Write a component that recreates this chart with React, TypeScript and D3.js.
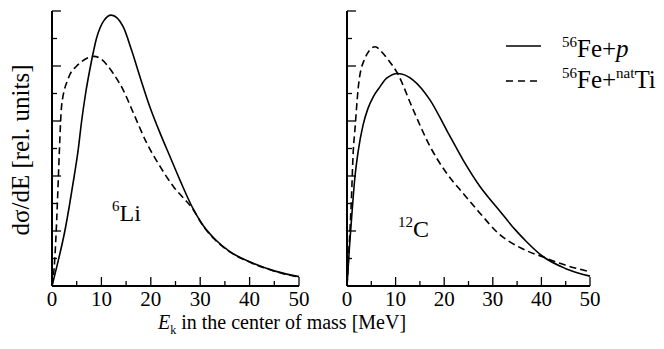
import React from "react";
import * as d3 from "d3";

// [E (MeV), dσ/dE (rel. units)]
const liProton: [number, number][] = [
  [0, 0], [1.3, 0.95], [2.6, 2.0], [3.5, 2.9], [4.5, 4.0], [5.3, 4.95], [6.0, 6.0],
  [6.8, 7.0], [7.8, 8.0], [9.0, 9.0], [10.5, 9.65], [12.0, 9.85], [14.4, 9.43],
  [16.1, 8.58], [17.8, 7.61], [19.8, 6.52], [21.9, 5.55], [23.9, 4.7], [25.9, 3.85],
  [28.3, 2.9], [30.6, 2.2], [33.0, 1.7], [36.0, 1.25], [40.0, 0.88], [45.0, 0.55], [50, 0.34],
];
const liTi: [number, number][] = [
  [0, 0], [0.55, 0.95], [0.95, 2.4], [1.3, 4.0], [1.5, 4.95], [1.96, 6.58],
  [3.3, 7.55], [5.0, 8.0], [6.0, 8.16], [8.5, 8.35], [9.7, 8.28], [12.4, 7.73],
  [14.4, 7.13], [16.5, 6.28], [19.2, 5.19], [21.9, 4.34], [24.6, 3.61], [26.6, 3.2],
  [28.3, 2.85], [30.6, 2.18], [33.0, 1.68], [36.0, 1.24], [40.0, 0.87], [45.0, 0.54], [50, 0.32],
];
const cProton: [number, number][] = [
  [0, 0], [0.5, 1.4], [1.0, 2.6], [1.6, 3.9], [2.3, 4.9], [3.3, 5.85], [4.3, 6.45],
  [5.4, 6.88], [6.8, 7.25], [8.1, 7.55], [10.5, 7.73], [13.6, 7.49], [17.1, 6.76],
  [20.5, 5.67], [23.9, 4.58], [27.4, 3.61], [31.1, 2.8], [34.6, 2.05], [37.0, 1.6],
  [40.1, 1.1], [44.9, 0.64], [50, 0.36],
];
const cTi: [number, number][] = [
  [0, 0], [0.4, 1.3], [0.9, 3.13], [1.3, 4.95], [1.6, 5.61], [2.3, 7.19], [3.4, 8.16],
  [5.8, 8.7], [7.2, 8.5], [8.6, 8.2], [10.4, 7.73], [13.4, 6.5], [17.1, 5.07], [20.5, 4.1],
  [23.9, 3.37], [27.4, 2.64], [31.1, 1.92], [35.9, 1.37], [40.1, 1.07],
  [44.9, 0.76], [50, 0.52],
];

const xTicks = [0, 10, 20, 30, 40, 50];
const xMinor = [5, 15, 25, 35, 45];
const yMajor = [0, 2, 4, 6, 8, 10];
const yMinor = [1, 3, 5, 7, 9];

const W = 664;
const H = 349;
const font = "Liberation Serif";

const y = d3.scaleLinear().domain([0, 10]).range([286, 11]);

function Panel({ x0, x1, solid, dashed, label, mass }: any) {
  const x = d3.scaleLinear().domain([0, 50]).range([x0, x1]);
  const line = d3
    .line<[number, number]>()
    .x((d) => x(d[0]))
    .y((d) => y(d[1]))
    .curve(d3.curveMonotoneX);
  return (
    <g>
      <path d={line(solid) || ""} fill="none" stroke="#000" strokeWidth={1.6} />
      <path d={line(dashed) || ""} fill="none" stroke="#000" strokeWidth={1.6} strokeDasharray="7,4" />
      <line x1={x0} x2={x0} y1={y(10)} y2={y(0)} stroke="#000" strokeWidth={2} />
      <line x1={x0} x2={x1} y1={y(0)} y2={y(0)} stroke="#000" strokeWidth={2} />
      {yMajor.map((t) => (
        <line key={"ym" + t} x1={x0} x2={x0 + 9} y1={y(t)} y2={y(t)} stroke="#000" strokeWidth={1.3} />
      ))}
      {yMinor.map((t) => (
        <line key={"yn" + t} x1={x0} x2={x0 + 5} y1={y(t)} y2={y(t)} stroke="#000" strokeWidth={1.3} />
      ))}
      {xTicks.map((t) => (
        <g key={"xm" + t}>
          <line x1={x(t)} x2={x(t)} y1={y(0)} y2={y(0) - 9} stroke="#000" strokeWidth={1.3} />
          <text x={x(t)} y={306} textAnchor="middle" fontSize={21} style={{ fontFamily: font }}>
            {t}
          </text>
        </g>
      ))}
      {xMinor.map((t) => (
        <line key={"xn" + t} x1={x(t)} x2={x(t)} y1={y(0)} y2={y(0) - 5} stroke="#000" strokeWidth={1.3} />
      ))}
      <text x={label.x} y={label.y} fontSize={24} style={{ fontFamily: font }}>
        <tspan fontSize={15} dy={-10}>{mass}</tspan>
        <tspan dy={10}>{label.text}</tspan>
      </text>
    </g>
  );
}

export default function App() {
  return (
    <svg width={W} height={H} style={{ position: "absolute", left: 0, top: 0, background: "#fff" }}>
      <Panel x0={52} x1={299} solid={liProton} dashed={liTi} mass="6" label={{ x: 112, y: 221, text: "Li" }} />
      <Panel x0={347} x1={590} solid={cProton} dashed={cTi} mass="12" label={{ x: 398, y: 237, text: "C" }} />

      <text transform="translate(29,150) rotate(-90)" textAnchor="middle" fontSize={25} style={{ fontFamily: font }}>
        dσ/dE [rel. units]
      </text>
      <text x={282} y={329} textAnchor="middle" fontSize={20} style={{ fontFamily: font }}>
        <tspan fontStyle="italic">E</tspan>
        <tspan fontSize={12} dy={5}>k</tspan>
        <tspan dy={-5}> in the center of mass [MeV]</tspan>
      </text>

      <line x1={506} x2={541} y1={46} y2={46} stroke="#000" strokeWidth={1.6} />
      <line x1={506} x2={541} y1={81} y2={81} stroke="#000" strokeWidth={1.6} strokeDasharray="7,5" />
      <text x={562} y={57} fontSize={25} style={{ fontFamily: font }}>
        <tspan fontSize={15} dy={-10}>56</tspan>
        <tspan dy={10}>Fe+</tspan>
        <tspan fontStyle="italic">p</tspan>
      </text>
      <text x={562} y={88} fontSize={25} style={{ fontFamily: font }}>
        <tspan fontSize={15} dy={-10}>56</tspan>
        <tspan dy={10}>Fe+</tspan>
        <tspan fontSize={15} dy={-10}>nat</tspan>
        <tspan dy={10}>Ti</tspan>
      </text>
    </svg>
  );
}
